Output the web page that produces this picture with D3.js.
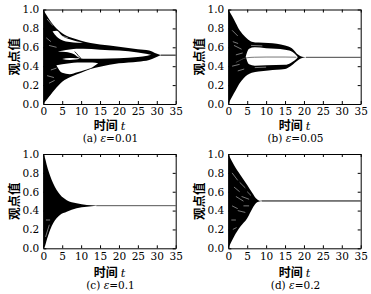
<!DOCTYPE html>
<html>
<head>
<meta charset="utf-8">
<script src="https://cdn.jsdelivr.net/npm/d3@7"></script>
<style>
  body { margin: 0; background: #fff; }
</style>
</head>
<body>
<svg id="chart" width="371" height="294"></svg>
<script>
// ---- data ----
var tTicks = [0, 5, 10, 15, 20, 25, 30, 35]
var vTicks = [0, 0.2, 0.4, 0.6, 0.8, 1.0]
var panelKeys = ['a', 'b', 'c', 'd']
var epsValues = ['0.01', '0.05', '0.1', '0.2']

// bands: [t, low, high]   lines: [t, value]   streaks: [t0, v0, t1, v1]
// (a) eps = 0.01
var aHull = [[0,0,1],[1,0.05,0.93],[2,0.1,0.87],[3,0.15,0.82],[5,0.235,0.75],[7.5,0.29,0.7],[10,0.33,0.67],
  [12.5,0.37,0.645],[15,0.395,0.63],[20,0.43,0.607],[25,0.448,0.58],[28,0.466,0.565],[29.5,0.49,0.54],[31,0.517,0.518]]
var aHoleUp = [[2.5,0.765,0.77],[3.5,0.715,0.775],[5,0.675,0.72],[7,0.655,0.685],[9,0.648,0.662],[10.5,0.65,0.652]]
var aHoleMid = [[4,0.556,0.557],[6,0.55,0.572],[8,0.53,0.583],[9.5,0.49,0.585],[10.5,0.48,0.585],[15,0.48,0.575],
  [20,0.485,0.565],[25,0.497,0.545],[27.5,0.51,0.53],[28.5,0.52,0.521]]
var aHoleMid2 = [[5,0.476,0.477],[7,0.466,0.486],[8.5,0.47,0.484],[9.6,0.482,0.483]]
var aHoleLow = [[3.5,0.405,0.41],[5,0.33,0.42],[7,0.315,0.43],[9,0.335,0.44],[11,0.36,0.44],[13,0.39,0.438],[14.5,0.43,0.432]]
var aThin = [[8.3,0.555],[8.9,0.53],[9.5,0.5],[10,0.482]]
var aStreaks = [[1,0.9,2.5,0.83],[3,0.74,6.5,0.7],[4.5,0.69,8.5,0.66],[1.5,0.62,3.5,0.6],[1,0.3,2.8,0.28],
  [1.5,0.22,3,0.25],[0.8,0.7,2,0.66],[2,0.36,3.5,0.38],[6,0.37,9,0.38]]
var aLine = [[31,0.517],[35,0.517]]

// (b) eps = 0.05
var bHull = [[0,0,1],[1,0.077,0.93],[2,0.148,0.855],[3,0.22,0.78],[4,0.27,0.73],[5,0.307,0.69],[6.2,0.33,0.66],
  [8,0.345,0.65],[10.6,0.355,0.645],[15,0.37,0.62],[16.8,0.41,0.59],[18.5,0.466,0.52],[19.5,0.487,0.5],[20.5,0.494,0.495]]
var bHole = [[4.6,0.5,0.5],[5.5,0.42,0.585],[7,0.405,0.6],[10,0.41,0.59],[15,0.415,0.575],[16.5,0.435,0.56],
  [17.5,0.46,0.535],[18.3,0.49,0.5]]
var bThin = [[2,0.44],[3,0.46],[4,0.48],[5,0.49],[7,0.495],[10,0.497],[15,0.497],[18,0.495]]
var bStreaks = [[1,0.78,2.5,0.72],[1.5,0.62,3.5,0.58],[2,0.52,3.8,0.54],[1,0.4,3,0.42],[2.5,0.35,4.2,0.37],
  [1.2,0.66,2.6,0.64],[6,0.62,9,0.615],[7,0.385,10,0.39]]
var bLine = [[20.5,0.494],[35,0.494]]

// (c) eps = 0.1
var cHull = [[0,0,1],[0.5,0.03,0.95],[1,0.1,0.87],[1.8,0.194,0.77],[2.6,0.265,0.69],[4.4,0.353,0.57],
  [6.2,0.388,0.51],[8.8,0.424,0.477],[11.5,0.44,0.459],[14,0.451,0.453]]
var cStreaks = [[0.6,0.12,1.6,0.25],[1,0.06,2,0.2],[0.7,0.3,1.8,0.3]]
var cLine = [[14,0.452],[35,0.452]]

// (d) eps = 0.2
var dHull = [[0,0,1],[1.5,0.123,0.883],[3.2,0.23,0.777],[5,0.318,0.671],[6.4,0.424,0.583],[7.3,0.477,0.53],
  [8.2,0.495,0.505],[8.8,0.501,0.503]]
var dStreaks = [[1,0.8,2.5,0.72],[1.5,0.65,3,0.6],[2,0.55,4,0.5],[1,0.45,2.5,0.42],[2.5,0.4,4.5,0.38],
  [3,0.7,4.5,0.64],[0.8,0.3,2,0.3],[3.5,0.55,5.5,0.52],[4,0.45,5.5,0.45],[1.2,0.2,2.2,0.22],[5,0.6,6,0.56]]
var dLine = [[8.8,0.502],[35,0.502]]

var panelData = {
  a: { hull: aHull, holes: [aHoleUp, aHoleMid, aHoleMid2, aHoleLow], thin: aThin, thinColor: '#000',
       streaks: aStreaks, line: aLine, lineColor: '#000' },
  b: { hull: bHull, holes: [bHole], thin: bThin, thinColor: '#555', streaks: bStreaks, line: bLine, lineColor: '#444' },
  c: { hull: cHull, holes: [], thin: null, streaks: cStreaks, line: cLine, lineColor: '#555' },
  d: { hull: dHull, holes: [], thin: null, streaks: dStreaks, line: dLine, lineColor: '#000' }
}

// ---- layout ----
var serif = '"DejaVu Serif", "Liberation Serif", serif'
var cjk = '"Noto Sans CJK SC", sans-serif'
var plotW = 132.4
var panelPos = {
  a: { left: 43.3, top: 9.5, h: 94.5, xl: 26, cap: 38.2 },
  b: { left: 228.3, top: 9.5, h: 94.5, xl: 26, cap: 38.2 },
  c: { left: 43.3, top: 154, h: 94.3, xl: 28.3, cap: 40.3 },
  d: { left: 228.3, top: 154, h: 94.3, xl: 28.3, cap: 40.3 }
}

var svg = d3.select('svg#chart')

panelKeys.forEach(function(key, i) {
  var pos = panelPos[key]
  var pd = panelData[key]
  var h = pos.h

  var x = d3.scaleLinear().domain([0, 35]).range([0, plotW])
  var y = d3.scaleLinear().domain([0, 1]).range([h, 0])

  var g = svg.append('g')
    .attr('transform', 'translate(' + pos.left + ',' + pos.top + ')')

  var band = d3.area()
    .x(function(d) { return x(d[0]) })
    .y0(function(d) { return y(d[1]) })
    .y1(function(d) { return y(d[2]) })
    .curve(d3.curveMonotoneX)

  var line = d3.line()
    .x(function(d) { return x(d[0]) })
    .y(function(d) { return y(d[1]) })
    .curve(d3.curveMonotoneX)

  g.append('path').attr('d', band(pd.hull)).attr('fill', '#000')
  pd.holes.forEach(function(hole) {
    g.append('path').attr('d', band(hole)).attr('fill', '#fff')
  })
  // light streaks inside the dense bundle
  g.selectAll('line.streak').data(pd.streaks).enter().append('line')
    .attr('class', 'streak')
    .attr('x1', function(d) { return x(d[0]) })
    .attr('y1', function(d) { return y(d[1]) })
    .attr('x2', function(d) { return x(d[2]) })
    .attr('y2', function(d) { return y(d[3]) })
    .attr('stroke', '#fff').attr('stroke-width', 0.6).attr('opacity', 0.8)
  if (pd.thin) {
    g.append('path').attr('d', line(pd.thin)).attr('fill', 'none')
      .attr('stroke', pd.thinColor).attr('stroke-width', 0.8)
  }
  g.append('path').attr('d', line(pd.line)).attr('fill', 'none')
    .attr('stroke', pd.lineColor).attr('stroke-width', 1)

  // axes, ticks inward on all four sides
  g.append('g').attr('transform', 'translate(0,' + h + ')')
    .call(d3.axisBottom(x).tickValues(tTicks).tickSize(-3).tickSizeOuter(0).tickPadding(4).tickFormat(d3.format('d')))
  g.append('g')
    .call(d3.axisTop(x).tickValues(tTicks).tickSize(-3).tickSizeOuter(0).tickFormat(''))
  g.append('g')
    .call(d3.axisLeft(y).tickValues(vTicks).tickSize(-3).tickSizeOuter(0).tickPadding(4).tickFormat(d3.format('.1f')))
  g.append('g').attr('transform', 'translate(' + plotW + ',0)')
    .call(d3.axisRight(y).tickValues(vTicks).tickSize(-3).tickSizeOuter(0).tickFormat(''))

  g.selectAll('.domain, .tick line').attr('stroke', '#000').attr('stroke-width', 1)
  g.selectAll('.tick text')
    .style('font-family', serif).style('font-size', '10.5px').attr('fill', '#000')

  // axis titles
  g.append('text')
    .attr('transform', 'translate(' + (-29.5) + ',' + (h / 2) + ') rotate(-90)')
    .attr('text-anchor', 'middle')
    .attr('dominant-baseline', 'central')
    .style('font-family', cjk).style('font-weight', 700).style('font-size', '12.5px')
    .text('观点值')

  var xt = g.append('text')
    .attr('x', plotW / 2)
    .attr('y', h + pos.xl)
    .attr('text-anchor', 'middle')
  xt.append('tspan').style('font-family', cjk).style('font-weight', 700).style('font-size', '12px').text('时间')
  xt.append('tspan').style('font-family', serif).style('font-size', '11.5px').style('font-style', 'italic')
    .attr('dx', 3).text('t')

  var cap = g.append('text')
    .attr('x', plotW / 2 + 1)
    .attr('y', h + pos.cap)
    .attr('text-anchor', 'middle')
    .style('font-family', serif).style('font-size', '10.5px')
  cap.append('tspan').text('(' + key + ') ')
  cap.append('tspan').style('font-style', 'italic').text('ε')
  cap.append('tspan').text('=' + epsValues[i])
})
</script>
</body>
</html>
